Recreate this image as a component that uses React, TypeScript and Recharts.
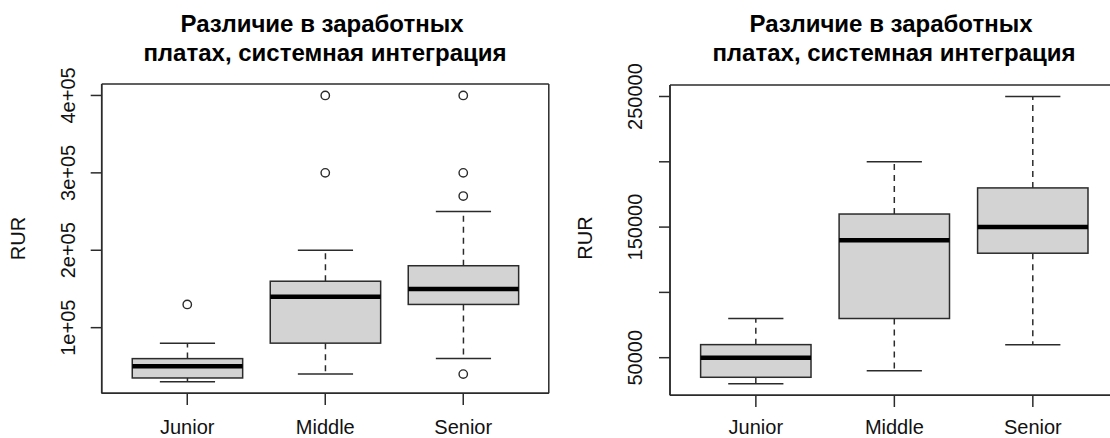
import React from 'react';
import { ComposedChart, Bar, Scatter, XAxis, YAxis, CartesianGrid } from 'recharts';

const categories = ['Junior', 'Middle', 'Senior'];
const positions = [1, 2, 3];

// box statistics (same on both panels)
const whiskerLow = [30000, 40000, 60000];
const quart1 = [35000, 80000, 130000];
const medians = [50000, 140000, 150000];
const quart3 = [60000, 160000, 180000];
const whiskerHigh = [80000, 200000, 250000];

// outliers, left panel only
const outlierPos = [1, 2, 2, 3, 3, 3, 3];
const outlierValue = [130000, 300000, 400000, 40000, 270000, 300000, 400000];

const leftTicks = [100000, 200000, 300000, 400000];
const leftTickLabels = ['1e+05', '2e+05', '3e+05', '4e+05'];
const rightTicks = [50000, 100000, 150000, 200000, 250000];
const rightTickLabels = ['50000', '', '150000', '', '250000'];

const titleLines = ['Различие в заработных', 'платах, системная интеграция'];
const yLabel = 'RUR';

const boxes = positions.map((p, i) => ({
  pos: p,
  lo: whiskerLow[i],
  q1: quart1[i],
  med: medians[i],
  q3: quart3[i],
  hi: whiskerHigh[i],
}));

const outliers = outlierPos.map((p, i) => ({ pos: p, v: outlierValue[i] }));

const FONT = '"Liberation Sans", Arial, Helvetica, sans-serif';
const INK = '#2b2b2b';

const BoxShape = (props: any) => {
  const { x, y, width, height, payload } = props;
  const top = Math.min(y, y + height);
  const h = Math.abs(height);
  const span = payload.hi - payload.lo;
  const py = (v: number) => top + ((payload.hi - v) / span) * h;
  const cx = x + width / 2;
  const cap = width / 4;
  const dash = '6 5';
  return (
    <g>
      <line x1={cx} x2={cx} y1={py(payload.q3)} y2={py(payload.hi)} stroke={INK} strokeWidth={1.5} strokeDasharray={dash} />
      <line x1={cx} x2={cx} y1={py(payload.q1)} y2={py(payload.lo)} stroke={INK} strokeWidth={1.5} strokeDasharray={dash} />
      <line x1={cx - cap} x2={cx + cap} y1={py(payload.hi)} y2={py(payload.hi)} stroke={INK} strokeWidth={1.5} />
      <line x1={cx - cap} x2={cx + cap} y1={py(payload.lo)} y2={py(payload.lo)} stroke={INK} strokeWidth={1.5} />
      <rect x={x} y={py(payload.q3)} width={width} height={py(payload.q1) - py(payload.q3)} fill="#d3d3d3" stroke={INK} strokeWidth={1.5} />
      <line x1={x} x2={x + width} y1={py(payload.med)} y2={py(payload.med)} stroke="#000" strokeWidth={4.5} />
    </g>
  );
};

const OutlierShape = (props: any) => (
  <circle cx={props.cx} cy={props.cy} r={4.2} fill="none" stroke={INK} strokeWidth={1.4} />
);

const XTick = (props: any) => {
  const { x, y, payload } = props;
  const idx = positions.indexOf(payload.value);
  return (
    <text x={x} y={y} textAnchor="middle" fontFamily={FONT} fontSize={20} fill="#111">
      {categories[idx]}
    </text>
  );
};

const makeYTick = (ticks: number[], labels: string[]) => (props: any) => {
  const { x, y, payload } = props;
  const label = labels[ticks.indexOf(payload.value)];
  if (!label) return <g />;
  return (
    <text x={x} y={y} transform={`rotate(-90 ${x} ${y})`} textAnchor="middle" fontFamily={FONT} fontSize={20} fill="#111">
      {label}
    </text>
  );
};

// frame round the plot area, drawn as grid lines on its edges
const frameH = ({ offset }: any) => [offset.top, offset.top + offset.height];
const frameV = ({ offset }: any) => [offset.left, offset.left + offset.width];

type PanelProps = {
  left: number;
  width: number;
  plotLeft: number;
  marginRight: number;
  plotTop: number;
  plotBottom: number;
  domain: [number, number];
  ticks: number[];
  tickLabels: string[];
  yTickMargin: number;
  xTickMargin: number;
  showOutliers: boolean;
  titleX: number;
  titleY: [number, number];
  labelX: number;
  labelY: number;
};

const axisStroke = { stroke: INK, strokeWidth: 1.5 };

const Panel = (p: PanelProps) => {
  const YTick = makeYTick(p.ticks, p.tickLabels);
  return (
    <div style={{ position: 'absolute', left: p.left, top: 0, width: p.width, height: 438 }}>
      <ComposedChart
        width={p.width}
        height={438}
        data={boxes}
        margin={{ top: p.plotTop, right: p.marginRight, bottom: 0, left: 0 }}
      >
        <CartesianGrid
          stroke={INK}
          strokeWidth={1.5}
          horizontalCoordinatesGenerator={frameH}
          verticalCoordinatesGenerator={frameV}
        />
        <XAxis
          dataKey="pos"
          type="number"
          domain={[0.38, 3.62]}
          ticks={positions}
          height={438 - p.plotBottom}
          tickSize={11.7}
          tickMargin={p.xTickMargin}
          axisLine={axisStroke}
          tickLine={axisStroke}
          tick={<XTick />}
          allowDataOverflow
        />
        <YAxis
          type="number"
          domain={p.domain}
          ticks={p.ticks}
          width={p.plotLeft}
          tickSize={11}
          tickMargin={p.yTickMargin}
          axisLine={axisStroke}
          tickLine={axisStroke}
          tick={<YTick />}
          allowDataOverflow
        />
        <Bar
          dataKey={(d: any) => [d.lo, d.hi]}
          barSize={110.4}
          shape={<BoxShape />}
          isAnimationActive={false}
        />
        {p.showOutliers && (
          <Scatter data={outliers} dataKey="v" shape={<OutlierShape />} isAnimationActive={false} />
        )}
      </ComposedChart>
      <svg
        width={p.width}
        height={438}
        style={{ position: 'absolute', left: 0, top: 0, pointerEvents: 'none' }}
      >
        <text x={p.titleX - 3} y={p.titleY[0]} textAnchor="middle" fontFamily={FONT} fontSize={24} fontWeight="bold" fill="#000">
          {titleLines[0]}
        </text>
        <text x={p.titleX} y={p.titleY[1]} textAnchor="middle" fontFamily={FONT} fontSize={24} fontWeight="bold" fill="#000">
          {titleLines[1]}
        </text>
        <text
          x={p.labelX}
          y={p.labelY}
          transform={`rotate(-90 ${p.labelX} ${p.labelY})`}
          textAnchor="middle"
          fontFamily={FONT}
          fontSize={20}
          fill="#111"
        >
          {yLabel}
        </text>
      </svg>
    </div>
  );
};

export default function App() {
  return (
    <div
      style={{
        position: 'absolute',
        left: 0,
        top: 0,
        width: 1110,
        height: 438,
        overflow: 'hidden',
        background: '#fff',
      }}
    >
      <Panel
        left={0}
        width={555}
        plotLeft={101.7}
        marginRight={6.2}
        plotTop={84}
        plotBottom={393.3}
        domain={[15200, 414800]}
        ticks={leftTicks}
        tickLabels={leftTickLabels}
        yTickMargin={15.2}
        xTickMargin={28.6}
        showOutliers
        titleX={325}
        titleY={[32, 60.5]}
        labelX={25}
        labelY={238.5}
      />
      <Panel
        left={555}
        width={564}
        plotLeft={115}
        marginRight={0.3}
        plotTop={85}
        plotBottom={395.3}
        domain={[21200, 258800]}
        ticks={rightTicks}
        tickLabels={rightTickLabels}
        yTickMargin={17.3}
        xTickMargin={26.8}
        showOutliers={false}
        titleX={339}
        titleY={[32, 60.5]}
        labelX={37}
        labelY={238}
      />
    </div>
  );
}
